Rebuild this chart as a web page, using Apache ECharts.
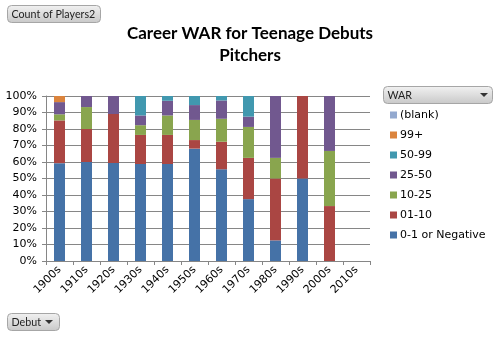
<!DOCTYPE html>
<html><head><meta charset="utf-8">
<script src="https://cdn.jsdelivr.net/npm/echarts@6/dist/echarts.min.js"></script>
<style>html,body{margin:0;padding:0;background:#fff}#c{width:498px;height:337px}</style>
</head><body><div id="c"></div>
<script>
const categories = ['1900s','1910s','1920s','1930s','1940s','1950s','1960s','1970s','1980s','1990s','2000s','2010s'];
const yTicks = [0,10,20,30,40,50,60,70,80,90,100];
const legendOrder = ['(blank)','99+','50-99','25-50','10-25','01-10','0-1 or Negative'];
const warNeg    = [59.3, 60.0, 59.4, 58.8, 58.8, 68.1, 55.6, 37.5, 12.5, 50.0, null, null];
const war01_10  = [25.9, 20.0, 29.7, 17.6, 17.6, 5.2, 16.7, 25.0, 37.5, 50.0, 33.3, null];
const war10_25  = [3.7, 13.3, null, 5.9, 11.8, 12.2, 13.9, 18.75, 12.5, null, 33.4, null];
const war25_50  = [7.4, 6.7, 10.9, 5.9, 8.9, 9.0, 11.1, 6.25, 37.5, null, 33.3, null];
const war50_99  = [null, null, null, 11.8, 2.9, 5.5, 2.7, 12.5, null, null, null, null];
const war99p    = [3.7, null, null, null, null, null, null, null, null, null, null, null];
const warBlank  = [null, null, null, null, null, null, null, null, null, null, null, null];

const seriesDefs = [
  ['0-1 or Negative', warNeg, '#4572A7'],
  ['01-10', war01_10, '#AA4643'],
  ['10-25', war10_25, '#89A54E'],
  ['25-50', war25_50, '#71588F'],
  ['50-99', war50_99, '#4198AF'],
  ['99+', war99p, '#DB843D'],
  ['(blank)', warBlank, '#93A9CF']
];

function button(x, y, w, h, label, arrow) {
  const els = [{
    type: 'rect', shape: {x: x, y: y, width: w, height: h, r: 4},
    style: {fill: {type: 'linear', x: 0, y: 0, x2: 0, y2: 1, colorStops: [{offset: 0, color: '#f2f2f2'}, {offset: 1, color: '#c8c8c8'}]}, stroke: '#a6a6a6', lineWidth: 1}
  }, {
    type: 'text', x: x + 4, y: y + h / 2 + 0.5,
    style: {text: label, fill: '#222', fontSize: 10.7, fontFamily: 'Lato', verticalAlign: 'middle', textVerticalAlign: 'middle'}
  }];
  if (arrow) {
    els.push({type: 'polygon', shape: {points: [[arrow - 4, y + h/2 - 2], [arrow + 4, y + h/2 - 2], [arrow, y + h/2 + 2]]}, style: {fill: '#333'}});
  }
  return els;
}

const chart = echarts.init(document.getElementById('c'), null, {renderer: 'canvas'});
chart.setOption({
  animation: false,
  title: {
    text: 'Career WAR for Teenage Debuts\nPitchers',
    left: 245, top: 18, textAlign: 'center',
    textStyle: {fontFamily: 'Lato', fontWeight: 'bold', fontSize: 17, lineHeight: 22, color: '#000'}
  },
  grid: {left: 46, right: 128, top: 96, bottom: 76},
  legend: {
    orient: 'vertical', left: 385, top: 103,
    data: legendOrder, icon: 'rect', itemWidth: 7, itemHeight: 7, itemGap: 6,
    textStyle: {fontFamily: 'DejaVu Sans', fontSize: 11, color: '#000', lineHeight: 14, padding: [0,0,0,-2]}
  },
  xAxis: {
    type: 'category', data: categories,
    axisLine: {lineStyle: {color: '#868686'}},
    axisTick: {show: true, length: 4, lineStyle: {color: '#868686'}},
    axisLabel: {rotate: 45, color: '#000', fontFamily: 'DejaVu Sans', fontSize: 11, margin: 7}
  },
  yAxis: {
    type: 'value', min: 0, max: 100, interval: 10,
    axisLine: {show: true, lineStyle: {color: '#868686'}},
    axisTick: {show: true, length: 4, lineStyle: {color: '#868686'}},
    splitLine: {lineStyle: {color: '#868686'}},
    axisLabel: {formatter: '{value}%', color: '#000', fontFamily: 'DejaVu Sans', fontSize: 11, margin: 9}
  },
  series: seriesDefs.map(d => ({
    name: d[0], type: 'bar', stack: 'war', data: d[1], barWidth: 11,
    itemStyle: {color: d[2]}
  })),
  graphic: [].concat(
    button(7.5, 5.5, 93, 17, 'Count of Players2', null),
    button(383.5, 86.5, 109, 17, 'WAR', 484),
    button(7.5, 313.5, 52, 17, 'Debut', 49)
  )
});
</script></body></html>
